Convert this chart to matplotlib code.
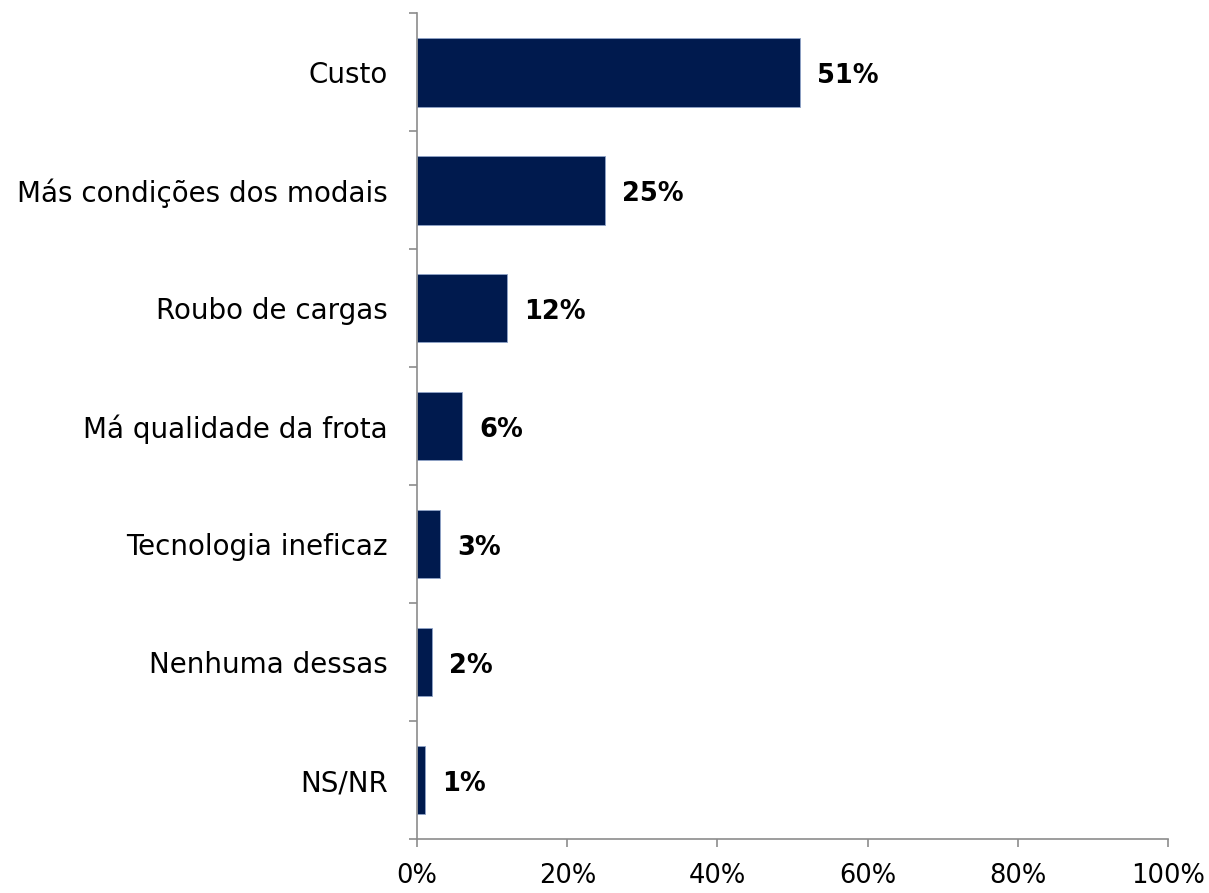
import matplotlib.pyplot as plt
import numpy as np

# Dados do gráfico
categorias = ["Custo", "Más condições dos modais", "Roubo de cargas",
              "Má qualidade da frota", "Tecnologia ineficaz",
              "Nenhuma dessas", "NS/NR"]
valores = [51, 25, 12, 6, 3, 2, 1]
xticks = [0, 20, 40, 60, 80, 100]

cor_barra = "#001a4e"
cor_eixo = "#8c8c8c"

fig = plt.figure(figsize=(12.09, 8.93), dpi=100)
ax = fig.add_axes([0.345, 0.0605, 0.621, 0.9245])

y = np.arange(len(categorias))
ax.barh(y, valores, height=0.58, color=cor_barra, edgecolor="#8fa3c8", linewidth=0.6)

for yi, v in zip(y, valores):
    ax.text(v + 2.3, yi + 0.03, f"{v}%", va="center", ha="left",
            fontsize=18.5, fontweight="bold", color="black")

ax.set_xlim(0, 100)
ax.set_ylim(len(categorias) - 0.5, -0.5)

ax.set_xticks(xticks)
ax.set_xticklabels([f"{t}%" for t in xticks], fontsize=18.5)

# marcas do eixo y nos limites entre categorias, rótulos no centro
ax.set_yticks(np.arange(len(categorias) + 1) - 0.5)
ax.set_yticklabels([])
ax.set_yticks(y, minor=True)
ax.set_yticklabels(categorias, minor=True, fontsize=20)
ax.tick_params(axis="y", which="minor", length=0, pad=21)
ax.tick_params(axis="y", which="major", length=6, width=1.2, color=cor_eixo, direction="out")
ax.tick_params(axis="x", length=6, width=1.2, color=cor_eixo, direction="out", pad=11)

for s in ["top", "right"]:
    ax.spines[s].set_visible(False)
for s in ["left", "bottom"]:
    ax.spines[s].set_color(cor_eixo)
    ax.spines[s].set_linewidth(1.2)

fig.savefig("out.png", dpi=100)
